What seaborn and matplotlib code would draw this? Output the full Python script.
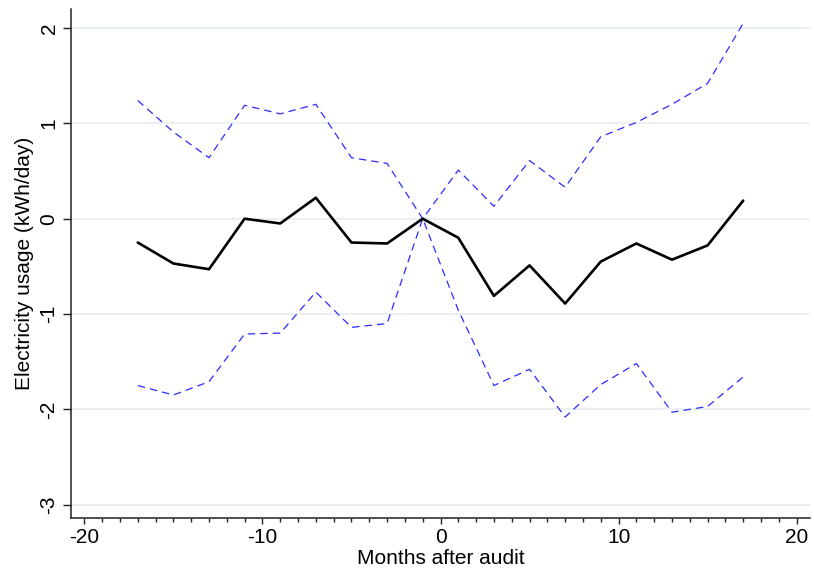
import numpy as np
import pandas as pd
import matplotlib
matplotlib.use("Agg")
import matplotlib.pyplot as plt
import seaborn as sns

# Event-study estimates of electricity usage around the audit month
months = [-17, -15, -13, -11, -9, -7, -5, -3, -1, 1, 3, 5, 7, 9, 11, 13, 15, 17]
estimate = [-0.25, -0.47, -0.53, 0.00, -0.05, 0.22, -0.25, -0.26, 0.00,
            -0.20, -0.81, -0.49, -0.89, -0.45, -0.26, -0.43, -0.28, 0.19]
ci_upper = [1.24, 0.91, 0.64, 1.19, 1.10, 1.20, 0.64, 0.58, 0.00,
            0.51, 0.13, 0.61, 0.33, 0.86, 1.01, 1.20, 1.42, 2.05]
ci_lower = [-1.75, -1.85, -1.71, -1.21, -1.20, -0.77, -1.14, -1.10, 0.00,
            -0.96, -1.75, -1.58, -2.08, -1.74, -1.52, -2.03, -1.97, -1.66]

x_ticks = [-20, -10, 0, 10, 20]
x_minor_ticks = list(range(-20, 21))
y_ticks = [-3, -2, -1, 0, 1, 2]

df = pd.DataFrame({"month": months, "estimate": estimate,
                   "upper": ci_upper, "lower": ci_lower})

sns.set_theme(style="white")
plt.rcParams["font.family"] = ["Liberation Sans", "DejaVu Sans"]
plt.rcParams.update({
    "text.color": "black",
    "axes.labelcolor": "black",
    "xtick.color": "#222222",
    "ytick.color": "#222222",
    "xtick.labelcolor": "black",
    "ytick.labelcolor": "black",
    "xtick.bottom": True,
    "ytick.left": True,
    "xtick.minor.size": 3.0,
    "xtick.minor.width": 1.0,
})

fig = plt.figure(figsize=(8.14, 5.75), dpi=100)
ax = fig.add_axes([71 / 814, 1 - 518 / 575, (810 - 71) / 814, (518 - 9) / 575])

grid_color = "#e9f0f2"
for yv in y_ticks:
    ax.axhline(yv, color=grid_color, lw=1.3, zorder=0)

blue = "#2b2bff"
sns.lineplot(data=df, x="month", y="upper", ax=ax, color=blue, lw=0.9,
             zorder=2)
sns.lineplot(data=df, x="month", y="lower", ax=ax, color=blue, lw=0.9,
             zorder=2)
for line in ax.lines[-2:]:
    line.set_linestyle((0, (6, 4)))
sns.lineplot(data=df, x="month", y="estimate", ax=ax, color="black", lw=1.9,
             zorder=3)

ax.set_xlim(-20.75, 20.75)
ax.set_ylim(-3.14, 2.2)
ax.set_xticks(x_ticks)
ax.set_xticks([m for m in x_minor_ticks if m not in x_ticks], minor=True)
ax.set_yticks(y_ticks)

for side in ["top", "right"]:
    ax.spines[side].set_visible(False)
for side in ["left", "bottom"]:
    ax.spines[side].set_color("#222222")
    ax.spines[side].set_linewidth(1.1)

ax.tick_params(axis="x", which="major", direction="out", length=4.5, width=1.0,
               color="#222222", labelsize=15, pad=3, bottom=True)
ax.tick_params(axis="x", which="minor", direction="out", length=3.0, width=1.0,
               color="#222222", bottom=True)
ax.tick_params(axis="y", which="major", direction="out", length=6, width=1.0,
               color="#222222", labelsize=15, pad=3, left=True)

ax.set_xticklabels([str(v) for v in x_ticks])
ax.set_yticklabels([str(v) for v in y_ticks], rotation=90, va="center")

ax.set_xlabel("Months after audit", fontsize=15, labelpad=1, color="black")
ax.set_ylabel("Electricity usage (kWh/day)", fontsize=15, labelpad=4,
              color="black")

fig.savefig("out.png", dpi=100, facecolor="white")
